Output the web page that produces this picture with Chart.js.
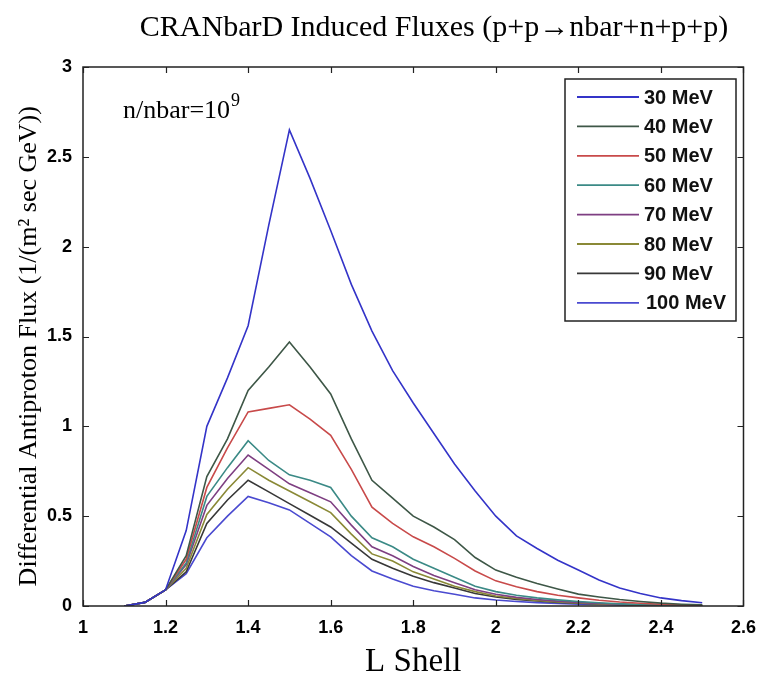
<!DOCTYPE html>
<html>
<head>
<meta charset="utf-8">
<title>CRANbarD Induced Fluxes</title>
<script src="https://cdn.jsdelivr.net/npm/chart.js@4.4.1/dist/chart.umd.min.js"></script>
<style>
  body { margin: 0; background: #fff; }
  #myChart { display: block; }
</style>
</head>
<body>
<canvas id="myChart" width="767" height="682"></canvas>
<script>
// L shell grid (x values)
var lShell = [1.1, 1.15, 1.2, 1.25, 1.3, 1.35, 1.4, 1.45, 1.5, 1.55, 1.6, 1.65, 1.7, 1.75, 1.8,
  1.85, 1.9, 1.95, 2.0, 2.05, 2.1, 2.15, 2.2, 2.25, 2.3, 2.35, 2.4, 2.45, 2.5];

// flux per energy
var flux30 = [0, 0.02, 0.09, 0.42, 1.0, 1.27, 1.56, 2.12, 2.65, 2.38, 2.09, 1.79, 1.53, 1.31, 1.13,
  0.96, 0.79, 0.64, 0.50, 0.39, 0.32, 0.255, 0.20, 0.145, 0.10, 0.07, 0.045, 0.03, 0.018];
var flux40 = [0, 0.02, 0.09, 0.28, 0.72, 0.93, 1.20, 1.33, 1.47, 1.33, 1.18, 0.93, 0.70, 0.60, 0.50,
  0.44, 0.37, 0.27, 0.20, 0.16, 0.125, 0.095, 0.066, 0.05, 0.036, 0.025, 0.016, 0.01, 0.006];
var flux50 = [0, 0.02, 0.09, 0.26, 0.66, 0.88, 1.08, 1.10, 1.12, 1.04, 0.95, 0.76, 0.55, 0.46, 0.385,
  0.33, 0.265, 0.195, 0.14, 0.107, 0.08, 0.06, 0.045, 0.032, 0.022, 0.015, 0.01, 0.006, 0.004];
var flux60 = [0, 0.02, 0.09, 0.24, 0.61, 0.77, 0.92, 0.81, 0.73, 0.70, 0.66, 0.50, 0.38, 0.33, 0.26,
  0.21, 0.16, 0.11, 0.08, 0.06, 0.045, 0.034, 0.025, 0.018, 0.012, 0.008, 0.005, 0.003, 0.002];
var flux70 = [0, 0.02, 0.09, 0.23, 0.56, 0.71, 0.84, 0.76, 0.68, 0.63, 0.58, 0.45, 0.33, 0.28, 0.22,
  0.17, 0.13, 0.09, 0.065, 0.048, 0.036, 0.027, 0.02, 0.014, 0.01, 0.007, 0.005, 0.003, 0.002];
var flux80 = [0, 0.02, 0.09, 0.21, 0.51, 0.65, 0.77, 0.70, 0.64, 0.58, 0.52, 0.40, 0.29, 0.25, 0.19,
  0.15, 0.11, 0.08, 0.056, 0.042, 0.031, 0.023, 0.017, 0.012, 0.009, 0.006, 0.004, 0.003, 0.002];
var flux90 = [0, 0.02, 0.09, 0.19, 0.46, 0.59, 0.70, 0.635, 0.57, 0.505, 0.44, 0.35, 0.26, 0.21, 0.165,
  0.13, 0.10, 0.07, 0.05, 0.037, 0.028, 0.02, 0.015, 0.011, 0.008, 0.006, 0.004, 0.003, 0.002];
var flux100 = [0, 0.02, 0.09, 0.18, 0.38, 0.50, 0.61, 0.575, 0.535, 0.46, 0.385, 0.28, 0.195, 0.15, 0.11,
  0.085, 0.065, 0.045, 0.033, 0.025, 0.019, 0.014, 0.01, 0.008, 0.006, 0.004, 0.003, 0.002, 0.001];

var energyLabels = ['30 MeV', '40 MeV', '50 MeV', '60 MeV', '70 MeV', '80 MeV', '90 MeV', '100 MeV'];
var allFlux = [flux30, flux40, flux50, flux60, flux70, flux80, flux90, flux100];
var lineColors = ['#3434c8', '#3e5747', '#c84a4a', '#3b8a86', '#7e3f82', '#8a8936', '#383838', '#4a4ad0'];

var xTicks = { min: 1, max: 2.6, step: 0.2 };
var yTicks = { min: 0, max: 3, step: 0.5 };

var datasets = energyLabels.map(function(lbl, i) {
  return {
    label: lbl,
    data: lShell.map(function(x, j) { return { x: x, y: allFlux[i][j] }; }),
    borderColor: lineColors[i],
    backgroundColor: lineColors[i],
    borderWidth: 1.6,
    pointRadius: 0,
    fill: false,
    tension: 0
  };
});

function trimNum(v) {
  return String(Number(v.toFixed(2)));
}

// box round the plot + inward tick marks (matlab look)
var framePlugin = {
  id: 'frame',
  afterDatasetsDraw: function(chart) {
    var ctx = chart.ctx, a = chart.chartArea;
    var xs = chart.scales.x, ys = chart.scales.y;
    var len = 6;
    ctx.save();
    ctx.strokeStyle = '#222';
    ctx.lineWidth = 1.5;
    ctx.strokeRect(a.left, a.top, a.right - a.left, a.bottom - a.top);
    ctx.beginPath();
    xs.ticks.forEach(function(t) {
      var px = Math.round(xs.getPixelForValue(t.value)) + 0.5;
      ctx.moveTo(px, a.bottom); ctx.lineTo(px, a.bottom - len);
      ctx.moveTo(px, a.top); ctx.lineTo(px, a.top + len);
    });
    ys.ticks.forEach(function(t) {
      var py = Math.round(ys.getPixelForValue(t.value)) + 0.5;
      ctx.moveTo(a.left, py); ctx.lineTo(a.left + len, py);
      ctx.moveTo(a.right, py); ctx.lineTo(a.right - len, py);
    });
    ctx.lineWidth = 1.2;
    ctx.stroke();
    ctx.restore();
  }
};

// legend box inside the plot, top right
var boxLegend = {
  id: 'boxLegend',
  afterDraw: function(chart) {
    var ctx = chart.ctx;
    var left = 565, top = 79, w = 171, h = 242;
    ctx.save();
    ctx.fillStyle = '#fff';
    ctx.fillRect(left, top, w, h);
    ctx.strokeStyle = '#222';
    ctx.lineWidth = 1.5;
    ctx.strokeRect(left, top, w, h);
    ctx.font = 'bold 20px "Liberation Sans", Arial, sans-serif';
    ctx.textBaseline = 'middle';
    chart.data.datasets.forEach(function(ds, i) {
      var y = top + 18 + i * 29.4;
      ctx.strokeStyle = ds.borderColor;
      ctx.lineWidth = 1.8;
      ctx.beginPath();
      ctx.moveTo(577, y); ctx.lineTo(639, y);
      ctx.stroke();
      ctx.fillStyle = '#111';
      ctx.fillText(ds.label, i == 7 ? 646 : 644, y + 1);
    });
    ctx.restore();
  }
};

// title and the n/nbar note
var textPlugin = {
  id: 'texts',
  afterDraw: function(chart) {
    var ctx = chart.ctx;
    ctx.save();
    ctx.fillStyle = '#000';
    ctx.textBaseline = 'alphabetic';
    ctx.font = '30px "Liberation Serif", "Times New Roman", serif';
    ctx.textAlign = 'center';
    ctx.fillText('CRANbarD Induced Fluxes (p+p\u2192nbar+n+p+p)', 434, 36);
    ctx.textAlign = 'left';
    ctx.font = '26px "Liberation Serif", "Times New Roman", serif';
    var base = 'n/nbar=10';
    ctx.fillText(base, 123, 118);
    var bw = ctx.measureText(base).width;
    ctx.font = '18px "Liberation Serif", "Times New Roman", serif';
    ctx.fillText('9', 123 + bw + 1, 106);
    ctx.restore();
  }
};

new Chart('myChart', {
  type: 'line',
  data: { datasets: datasets },
  options: {
    responsive: false,
    devicePixelRatio: 1,
    animation: false,
    layout: { padding: { top: 67, right: 15, left: 0, bottom: 0 } },
    plugins: {
      legend: { display: false },
      tooltip: { enabled: false },
      title: { display: false }
    },
    scales: {
      x: {
        type: 'linear',
        min: xTicks.min,
        max: xTicks.max,
        afterFit: function(scale) { scale.height = 76; },
        grid: { display: false, drawTicks: false },
        border: { display: false },
        ticks: {
          stepSize: xTicks.step,
          padding: 11,
          color: '#000',
          font: { family: '"Liberation Sans", Arial, sans-serif', size: 18, weight: 'bold' },
          maxRotation: 0,
          callback: function(v) { return trimNum(v); }
        },
        title: {
          display: true,
          text: 'L Shell',
          color: '#000',
          font: { family: '"Liberation Serif", "Times New Roman", serif', size: 33 },
          padding: { top: 0, bottom: 0 }
        }
      },
      y: {
        min: yTicks.min,
        max: yTicks.max,
        afterFit: function(scale) { scale.width = 83; },
        grid: { display: false, drawTicks: false },
        border: { display: false },
        ticks: {
          stepSize: yTicks.step,
          padding: 11,
          color: '#000',
          font: { family: '"Liberation Sans", Arial, sans-serif', size: 18, weight: 'bold' },
          callback: function(v) { return trimNum(v); }
        },
        title: {
          display: true,
          text: 'Differential Antiproton Flux (1/(m\u00b2 sec GeV))\u00a0\u00a0\u00a0',
          color: '#000',
          font: { family: '"Liberation Serif", "Times New Roman", serif', size: 26 },
          padding: { top: 14, bottom: 0 }
        }
      }
    }
  },
  plugins: [framePlugin, boxLegend, textPlugin]
});
</script>
</body>
</html>
